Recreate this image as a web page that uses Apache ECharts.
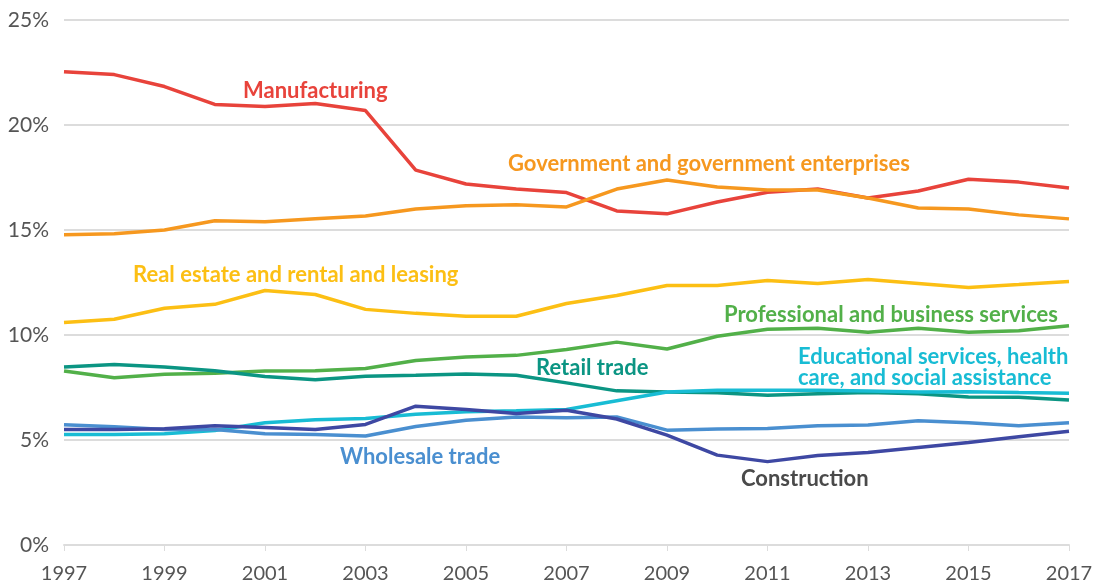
<!DOCTYPE html>
<html>
<head>
<meta charset="utf-8">
<script src="https://cdn.jsdelivr.net/npm/echarts@6.0.0/dist/echarts.min.js"></script>
<style>
  html, body { margin: 0; padding: 0; background: #fff; }
  #chart { width: 1097px; height: 584px; }
</style>
</head>
<body>
<div id="chart"></div>
<script>
  // years on the x axis
  var years = ['1997', '1998', '1999', '2000', '2001', '2002', '2003', '2004', '2005', '2006', '2007',
    '2008', '2009', '2010', '2011', '2012', '2013', '2014', '2015', '2016', '2017']

  // share of GDP, percent
  var manufacturing = [22.54, 22.4, 21.83, 20.98, 20.88, 21.02, 20.69, 17.85, 17.19, 16.95, 16.78,
    15.91, 15.77, 16.33, 16.8, 16.95, 16.52, 16.86, 17.42, 17.28, 17.0]
  var government = [14.77, 14.82, 15.0, 15.44, 15.39, 15.53, 15.67, 16.0, 16.15, 16.2, 16.1,
    16.95, 17.38, 17.05, 16.9, 16.9, 16.52, 16.05, 16.0, 15.72, 15.53]
  var realEstate = [10.6, 10.75, 11.27, 11.46, 12.12, 11.93, 11.22, 11.03, 10.89, 10.89, 11.5,
    11.88, 12.36, 12.36, 12.6, 12.45, 12.64, 12.45, 12.26, 12.4, 12.55]
  var professional = [8.29, 7.96, 8.13, 8.18, 8.29, 8.3, 8.4, 8.79, 8.95, 9.03, 9.31,
    9.66, 9.33, 9.94, 10.27, 10.32, 10.13, 10.32, 10.13, 10.2, 10.44]
  var retail = [8.48, 8.6, 8.48, 8.3, 8.02, 7.87, 8.03, 8.08, 8.14, 8.08, 7.72,
    7.34, 7.29, 7.25, 7.13, 7.2, 7.26, 7.2, 7.05, 7.03, 6.9]
  var educational = [5.26, 5.26, 5.3, 5.45, 5.82, 5.97, 6.02, 6.23, 6.34, 6.39, 6.45,
    6.87, 7.29, 7.37, 7.37, 7.37, 7.33, 7.28, 7.3, 7.26, 7.23]
  var wholesale = [5.73, 5.63, 5.5, 5.5, 5.3, 5.26, 5.19, 5.64, 5.94, 6.1, 6.06,
    6.1, 5.47, 5.52, 5.55, 5.68, 5.71, 5.92, 5.82, 5.68, 5.82]
  var construction = [5.5, 5.5, 5.54, 5.68, 5.59, 5.5, 5.74, 6.61, 6.45, 6.26, 6.42,
    6.0, 5.23, 4.28, 3.97, 4.26, 4.4, 4.64, 4.88, 5.16, 5.42]

  // y axis ticks
  var yTicks = [0, 5, 10, 15, 20, 25]

  var chart = echarts.init(document.getElementById('chart'))

  var fontFamily = 'Lato, "Open Sans", sans-serif'

  function line(name, data, color) {
    return {
      name: name,
      type: 'line',
      data: data,
      showSymbol: false,
      symbol: 'none',
      lineStyle: { width: 3.5, color: color },
      itemStyle: { color: color },
      z: 3
    }
  }

  // labels placed beside the lines
  function label(text, x, y, color) {
    return {
      type: 'text',
      left: x,
      top: y,
      style: {
        text: text,
        fill: color,
        font: 'bold 22px ' + fontFamily,
        lineHeight: 21
      },
      z: 10
    }
  }

  chart.setOption({
    animation: false,
    backgroundColor: '#fff',
    grid: { left: 64, right: 28, top: 20, bottom: 38, containLabel: false },
    xAxis: {
      type: 'category',
      data: years,
      boundaryGap: false,
      axisLine: { show: true, lineStyle: { color: '#dcdcdc', width: 2 } },
      axisTick: { show: true, interval: 1, length: 6, inside: false, lineStyle: { color: '#dcdcdc', width: 1 } },
      axisLabel: {
        interval: 1,
        color: '#555',
        fontSize: 20,
        fontFamily: fontFamily,
        margin: 19
      },
      splitLine: { show: false }
    },
    yAxis: {
      type: 'value',
      min: yTicks[0],
      max: yTicks[yTicks.length - 1],
      interval: 5,
      axisLine: { show: false },
      axisTick: { show: false },
      axisLabel: {
        formatter: '{value}%',
        color: '#555',
        fontSize: 21,
        fontFamily: fontFamily,
        margin: 15
      },
      splitLine: { lineStyle: { color: '#dcdcdc', width: 2 } }
    },
    series: [
      line('Manufacturing', manufacturing, '#e8433b'),
      line('Government and government enterprises', government, '#f6981f'),
      line('Real estate and rental and leasing', realEstate, '#fcbf14'),
      line('Professional and business services', professional, '#52b049'),
      line('Retail trade', retail, '#0b9583'),
      line('Educational services, health care, and social assistance', educational, '#18bcd4'),
      line('Wholesale trade', wholesale, '#4a8fd0'),
      line('Construction', construction, '#3e48a3')
    ],
    graphic: [
      label('Manufacturing', 243, 80, '#e8433b'),
      label('Government and government enterprises', 508, 153, '#f6981f'),
      label('Real estate and rental and leasing', 133, 264, '#fcbf14'),
      label('Professional and business services', 724, 304, '#52b049'),
      label('Retail trade', 536, 357, '#0b9583'),
      label('Educational services, health\ncare, and social assistance', 798, 346, '#18bcd4'),
      label('Wholesale trade', 340, 446, '#4a8fd0'),
      label('Construction', 741, 468, '#4a4a4a')
    ]
  })
</script>
</body>
</html>
